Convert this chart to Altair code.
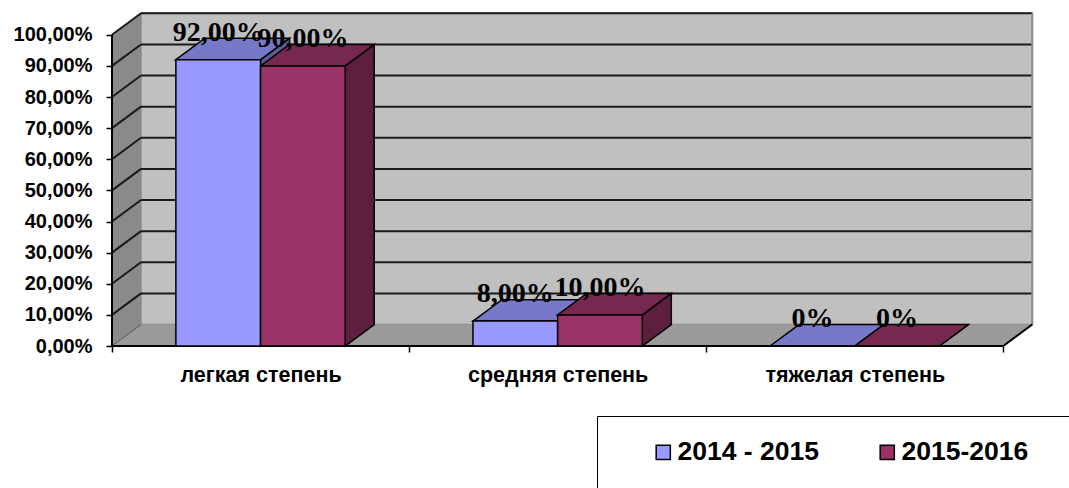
import altair as alt
import pandas as pd

# ---- data ----
categories = ["легкая степень", "средняя степень", "тяжелая степень"]
series_names = ["2014 - 2015", "2015-2016"]
values_2014_2015 = [92, 8, 0]
values_2015_2016 = [90, 10, 0]
y_ticks = [0, 10, 20, 30, 40, 50, 60, 70, 80, 90, 100]

# ---- styling ----
front_colors = ["#9999FF", "#993366"]
top_colors = ["#7878C8", "#772850"]
side_colors = ["#5C5C99", "#5E1F3F"]
WALL_BACK = "#C0C0C0"
WALL_LEFT = "#8A8A8A"
FLOOR = "#9A9A9A"

DX = 0.0976   # depth in x units
DY = 6.9      # depth in y units
BAR_W = 0.285
BAR_START = 0.215
N = len(categories)


def fmt(v):
    return "0%" if v == 0 else f"{v:.2f}".replace(".", ",") + "%"


fronts, tops, sides, labels = [], [], [], []
for s, (name, vals) in enumerate(zip(series_names, [values_2014_2015, values_2015_2016])):
    for i, v in enumerate(vals):
        xl = i + BAR_START + s * BAR_W
        xr = xl + BAR_W
        key = f"{s}-{i}"
        fronts.append(dict(series=name, x=xl, x2=xr, y=0, y2=v))
        pts = [(xl, v, v), (xl + DX, v + DY, v), (xr, v + DY, v), (xr + DX, v + DY, v + DY)]
        for (px, py, py2) in pts:
            tops.append(dict(series=name, face=key, x=px, y=py, y2=py2))
        pts = [(xr, v, 0), (xr + DX, v + DY, DY)]
        for (px, py, py2) in pts:
            sides.append(dict(series=name, face=key, x=px, y=py, y2=py2))
        labels.append(dict(series=name, x=(xl + xr) / 2, y=v, text=fmt(v)))

fronts = pd.DataFrame(fronts)
tops = pd.DataFrame(tops)
sides = pd.DataFrame(sides)
labels = pd.DataFrame(labels)

back_wall = pd.DataFrame([dict(x=DX, x2=N + DX, y=DY, y2=100 + DY)])
left_wall = pd.DataFrame([dict(x=0, y=100, y2=0), dict(x=DX, y=100 + DY, y2=DY)])
floor = pd.DataFrame([
    dict(x=0, y=0, y2=0), dict(x=DX, y=DY, y2=0),
    dict(x=N, y=DY, y2=0), dict(x=N + DX, y=DY, y2=DY)])

grid_back = pd.DataFrame([dict(x=DX, x2=N + DX, y=v + DY, y2=v + DY) for v in y_ticks if v > 0])
grid_left = pd.DataFrame([dict(x=0, x2=DX, y=v, y2=v + DY) for v in y_ticks if v > 0])
edges = pd.DataFrame([
    dict(x=0, x2=0, y=0, y2=100),          # left axis line
    dict(x=0, x2=N, y=0, y2=0),            # floor front edge
    dict(x=N, x2=N + DX, y=0, y2=DY),      # floor right edge
])
edge_floor_left = pd.DataFrame([dict(x=0, x2=DX, y=0, y2=DY)])
edge_back_right = pd.DataFrame([dict(x=N + DX, x2=N + DX, y=DY, y2=100 + DY)])

XDOM = [0, 3.1]
YDOM = [0, 107]

names_js = "[" + ",".join("'" + c + "'" for c in categories) + "]"
x_axis = alt.Axis(
    values=[0, 0.5, 1, 1.5, 2, 2.5, 3],
    labelExpr=f"datum.value % 1 == 0 ? '' : {names_js}[floor(datum.value)]",
    tickColor={"condition": {"test": "datum.value % 1 == 0", "value": "black"}, "value": "transparent"},
    tickSize=6, tickWidth=1.5, domain=False, grid=False, title=None,
    labelFont="Liberation Sans", labelFontSize=21.5, labelFontWeight="bold",
    labelColor="black", labelPadding=12, labelFlush=False, labelOverlap=False,
    labelLimit=400)
y_axis = alt.Axis(
    values=y_ticks,
    labelExpr="replace(format(datum.value, '.2f'), '.', ',') + '%'",
    tickSize=6, tickWidth=1.5, tickColor="black", domain=False, grid=False, title=None,
    labelFont="Liberation Sans", labelFontSize=20, labelFontWeight="bold",
    labelColor="black", labelPadding=14)

xs = alt.Scale(domain=XDOM, nice=False, zero=False)
ys = alt.Scale(domain=YDOM, nice=False, zero=False)


def X():
    return alt.X("x:Q", scale=xs, axis=x_axis)


def Y():
    return alt.Y("y:Q", scale=ys, axis=y_axis, stack=None)


back = alt.Chart(back_wall).mark_rect(fill=WALL_BACK, stroke="#8C8C8C", strokeWidth=1.5).encode(
    x=X(), x2="x2:Q", y=Y(), y2="y2:Q")
lwall = alt.Chart(left_wall).mark_area(fill=WALL_LEFT, orient="vertical").encode(
    x=X(), y=Y(), y2="y2:Q")
flr = alt.Chart(floor).mark_area(fill=FLOOR, orient="vertical").encode(
    x=X(), y=Y(), y2="y2:Q")
gb = alt.Chart(grid_back).mark_rule(color="#1A1A1A", strokeWidth=2).encode(
    x=X(), x2="x2:Q", y=Y(), y2="y2:Q")
gl = alt.Chart(grid_left).mark_rule(color="#1A1A1A", strokeWidth=2).encode(
    x=X(), x2="x2:Q", y=Y(), y2="y2:Q")
efl = alt.Chart(edge_floor_left).mark_rule(color="#555555", strokeWidth=1).encode(
    x=X(), x2="x2:Q", y=Y(), y2="y2:Q")
ebr = alt.Chart(edge_back_right).mark_rule(color="#8C8C8C", strokeWidth=2).encode(
    x=X(), x2="x2:Q", y=Y(), y2="y2:Q")
ed = alt.Chart(edges).mark_rule(color="black", strokeWidth=2).encode(
    x=X(), x2="x2:Q", y=Y(), y2="y2:Q")

side_l = alt.Chart(sides).mark_area(stroke="black", strokeWidth=1.5, orient="vertical").encode(
    x=X(), y=Y(), y2="y2:Q", detail="face:N",
    color=alt.Color("series:N", scale=alt.Scale(domain=series_names, range=side_colors), legend=None))
top_l = alt.Chart(tops).mark_area(stroke="black", strokeWidth=1.5, orient="vertical").encode(
    x=X(), y=Y(), y2="y2:Q", detail="face:N",
    color=alt.Color("series:N", scale=alt.Scale(domain=series_names, range=top_colors), legend=None))
last_name = series_names[-1]
pad = "\u2003" * 4 + "."
front_l = alt.Chart(fronts).mark_rect(stroke="black", strokeWidth=1.5).encode(
    x=X(), x2="x2:Q", y=Y(), y2="y2:Q",
    color=alt.Color("series:N", scale=alt.Scale(domain=series_names, range=front_colors),
                    legend=alt.Legend(
                        title="\u00a0", titleOrient="left", titlePadding=30, titleFontSize=11,
                        orient="none", legendX=485, legendY=403,
                        direction="horizontal", symbolType="square", symbolSize=200,
                        symbolStrokeColor="black", symbolStrokeWidth=1.5,
                        labelFont="Liberation Sans", labelFontSize=26.5, labelFontWeight="bold",
                        labelColor="black", columnPadding=55, labelOffset=1, labelLimit=600,
                        labelExpr=f"datum.label == '{last_name}' ? datum.label + '{pad}' : datum.label",
                        padding=23, strokeColor="black", fillColor="white")))
text_l = alt.Chart(labels).mark_text(
    font="Liberation Serif", fontSize=28, fontWeight="bold", color="black",
    baseline="alphabetic", dy=-19).encode(x=X(), y=Y(), text="text:N")

chart = alt.layer(back, lwall, flr, gb, gl, efl, ebr, ed, side_l, top_l, front_l, text_l).resolve_scale(
    color="independent"
).properties(
    width=921, height=333,
    autosize=alt.AutoSizeParams(type="none"),
    padding={"left": 112, "top": 13, "right": 36, "bottom": 142},
    background="white",
).configure_view(stroke=None)

chart.save("out.html", embed_options={"renderer": "svg", "actions": False})
